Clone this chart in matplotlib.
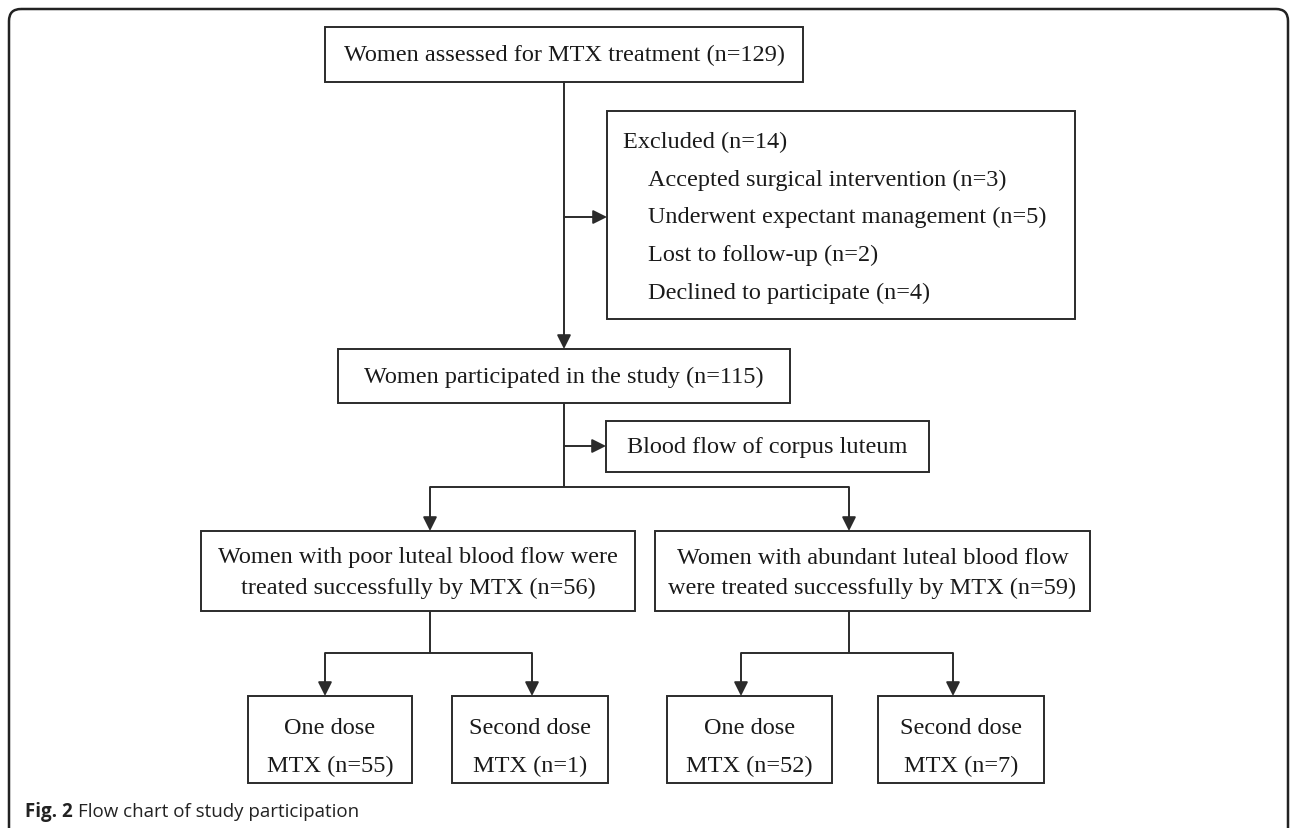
import matplotlib.pyplot as plt
from matplotlib.patches import Rectangle, FancyBboxPatch

# flow chart counts
n_assessed = 129
excluded_reasons = ['Accepted surgical intervention', 'Underwent expectant management',
                    'Lost to follow-up', 'Declined to participate']
excluded_counts = [3, 5, 2, 4]
n_participated = 115
split_label = 'Blood flow of corpus luteum'
group_lines = [['Women with poor luteal blood flow were', 'treated successfully by MTX'],
               ['Women with abundant luteal blood flow', 'were treated successfully by MTX']]
group_counts = [56, 59]
dose_labels = ['One dose', 'Second dose']
dose_counts = [[55, 1], [52, 7]]
caption_bold = 'Fig. 2'
caption_text = 'Flow chart of study participation'

W, H = 1292, 829
serif = 'Liberation Serif'
fs = 17.5
lc = '#2b2b2b'
lw = 1.4

fig = plt.figure(figsize=(W / 100, H / 100), dpi=100)
ax = fig.add_axes([0, 0, 1, 1])
ax.set_xlim(0, W)
ax.set_ylim(H, 0)
ax.axis('off')

# outer frame, open at the bottom
frame = FancyBboxPatch((9, 10), 1279, 900, boxstyle='round,pad=0,rounding_size=12',
                       fill=False, ec='#222222', lw=1.8)
ax.add_patch(frame)


def box(x0, y0, x1, y1):
    ax.add_patch(Rectangle((x0, y0), x1 - x0, y1 - y0, fill=False, ec=lc, lw=lw))


def line(xs, ys):
    ax.plot(xs, ys, color=lc, lw=lw, solid_capstyle='butt')


def arrow(x0, y0, x1, y1):
    ax.annotate('', xy=(x1, y1), xytext=(x0, y0),
                arrowprops=dict(arrowstyle='-|>,head_length=0.6,head_width=0.3', color=lc,
                                lw=lw, shrinkA=0, shrinkB=0, mutation_scale=14))


def label(x, y, s, ha='center'):
    ax.text(x, y, s, ha=ha, va='center', fontsize=fs, family=serif, color='#1a1a1a')


# top box
box(325, 28, 803, 83)
label(564, 55.5, f'Women assessed for MTX treatment (n={n_assessed})')
arrow(564, 83, 564, 350)

# excluded box
box(607, 112, 1075, 320)
arrow(564, 218, 607, 218)
label(623, 142, f'Excluded (n={sum(excluded_counts)})', ha='left')
for i, (r, c) in enumerate(zip(excluded_reasons, excluded_counts)):
    label(648, 180 + 37.8 * i, f'{r} (n={c})', ha='left')

# participated box
box(338, 350, 790, 404)
label(564, 377, f'Women participated in the study (n={n_participated})')
line([564, 564], [404, 488])
arrow(564, 447, 606, 447)
box(606, 422, 929, 473)
label(767.5, 447.5, split_label)

# two groups
group_x = [430, 849]
group_box = [(201, 635), (655, 1090)]
line([group_x[0], group_x[1]], [488, 488])
for gx, (bx0, bx1), gl, gc, cx in zip(group_x, group_box, group_lines, group_counts,
                                      [(325, 532), (741, 953)]):
    arrow(gx, 488, gx, 532)
    box(bx0, 532, bx1, 612)
    mid = (bx0 + bx1) / 2
    label(mid, 558, gl[0])
    label(mid, 588, f'{gl[1]} (n={gc})')
    line([gx, gx], [612, 654])
    line([cx[0], cx[1]], [654, 654])
    for ax_x in cx:
        arrow(ax_x, 654, ax_x, 697)

dose_box = [[(248, 412), (452, 608)], [(667, 832), (878, 1044)]]
for g in range(2):
    for k in range(2):
        bx0, bx1 = dose_box[g][k]
        box(bx0, 697, bx1, 784)
        mid = (bx0 + bx1) / 2
        label(mid, 728, dose_labels[k])
        label(mid, 766, f'MTX (n={dose_counts[g][k]})')

# caption
fig.canvas.draw()
r = fig.canvas.get_renderer()
t = ax.text(25, 812, caption_bold + ' ', ha='left', va='center', fontsize=13.5,
            family='Open Sans', weight='bold', color='#222222')
bb = t.get_window_extent(renderer=r)
x_end = ax.transData.inverted().transform((bb.x1, bb.y0))[0]
ax.text(x_end, 812, caption_text, ha='left', va='center', fontsize=13.5,
        family='Open Sans', color='#222222')

fig.savefig('out.png', dpi=100)
